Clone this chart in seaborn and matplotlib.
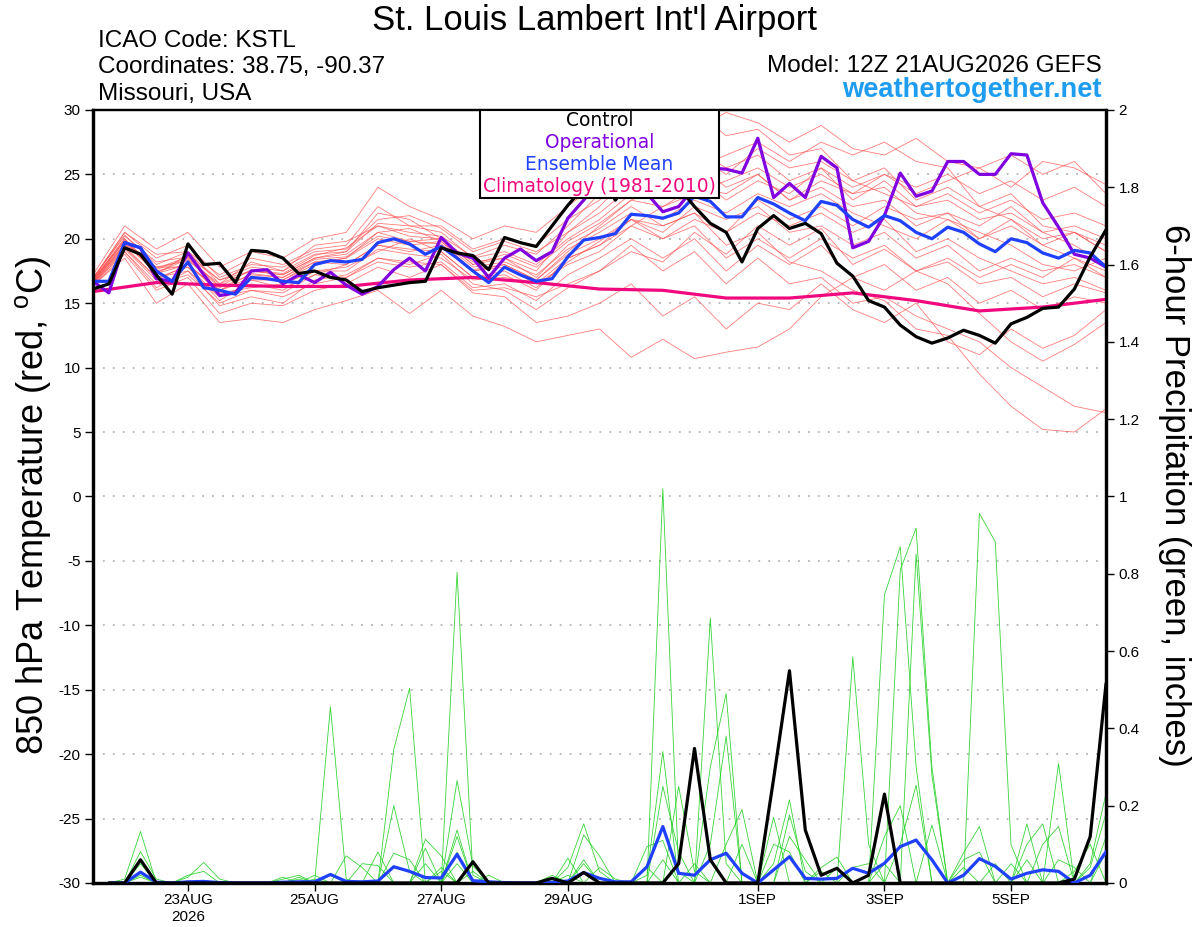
import numpy as np
import pandas as pd
import matplotlib
matplotlib.use("Agg")
import matplotlib.pyplot as plt
from matplotlib.patches import Rectangle
import seaborn as sns

# Forecast start: 12Z 21 Aug 2026, GEFS 0-384 h
START = pd.Timestamp("2026-08-21 12:00")

# 850 hPa temperature (C), every 6 h (65 values)
control_temp = [
    16.1, 16.5, 19.3, 18.8, 17.2, 15.7, 19.6, 18.0, 18.1, 16.6, 19.1, 19.0, 18.5,
    17.3, 17.5, 17.0, 16.8, 15.9, 16.2, 16.4, 16.6, 16.7, 19.3, 18.9, 18.7, 17.6,
    20.1, 19.7, 19.4, 21.0, 22.6, 24.0, 25.0, 23.0, 24.5, 25.0, 24.5, 24.0, 22.5,
    21.2, 20.5, 18.2, 20.8, 21.8, 20.8, 21.2, 20.4, 18.1, 17.1, 15.2, 14.7, 13.3,
    12.4, 11.9, 12.3, 12.9, 12.5, 11.9, 13.4, 13.9, 14.6, 14.7, 16.1, 18.6, 20.7,
]
operational_temp = [
    16.7, 15.8, 19.7, 19.3, 16.9, 16.7, 18.9, 17.2, 15.6, 15.8, 17.5, 17.6, 16.5,
    17.2, 16.6, 17.4, 16.4, 15.7, 16.3, 17.6, 18.5, 17.5, 20.1, 18.9, 18.5, 17.0,
    18.5, 19.2, 18.3, 19.0, 21.6, 23.0, 24.5, 25.0, 24.2, 23.5, 22.1, 22.5, 24.0,
    25.5, 25.4, 25.1, 27.8, 23.2, 24.3, 23.2, 26.4, 25.5, 19.3, 19.8, 21.8, 25.1,
    23.3, 23.7, 26.0, 26.0, 25.0, 25.0, 26.6, 26.5, 22.8, 20.9, 18.8, 18.5, 17.8,
]
mean_temp = [
    16.7, 16.7, 19.7, 19.3, 17.5, 16.7, 18.2, 16.2, 16.0, 15.7, 17.0, 16.9, 16.7,
    16.6, 18.0, 18.3, 18.2, 18.4, 19.7, 20.0, 19.6, 18.8, 19.4, 18.5, 17.5, 16.6,
    17.8, 17.2, 16.7, 16.9, 18.6, 19.9, 20.1, 20.4, 21.9, 21.8, 21.6, 22.0, 23.3,
    22.9, 21.7, 21.7, 23.2, 22.7, 22.0, 21.4, 22.9, 22.6, 21.5, 20.9, 21.8, 21.4,
    20.5, 20.0, 20.9, 20.5, 19.6, 19.0, 20.0, 19.7, 18.9, 18.5, 19.1, 18.9, 17.8,
]
# climatology (1981-2010), every 24 h
clim_temp = [15.9, 16.6, 16.4, 16.3, 16.3, 16.8, 17.0, 16.6, 16.1,
             16.0, 15.4, 15.4, 15.8, 15.2, 14.4, 14.7, 15.3]

# ensemble members, every 12 h (33 values each)
member_temp = [
    [16.9, 20.3, 18.0, 19.0, 16.5, 18.2, 17.5, 19.5, 19.8, 21.0, 20.5,
     20.2, 18.6, 19.5, 18.8, 21.0, 23.5, 25.8, 27.0, 28.5, 29.8, 29.0,
     27.5, 28.8, 27.0, 26.5, 27.8, 26.0, 25.5, 24.0, 26.0, 25.5, 24.2],
    [16.5, 19.0, 16.2, 17.5, 14.8, 15.5, 15.0, 16.8, 17.2, 18.5, 18.0,
     18.8, 16.5, 16.0, 14.5, 16.2, 17.5, 19.0, 18.2, 20.5, 18.8, 21.0,
     19.5, 20.8, 18.0, 19.2, 17.5, 16.5, 14.2, 12.0, 10.5, 11.8, 13.5],
    [16.8, 20.0, 17.2, 18.8, 16.8, 17.5, 17.2, 18.5, 18.8, 20.5, 19.8,
     20.0, 18.2, 18.5, 17.0, 19.5, 20.8, 22.5, 21.0, 22.0, 19.5, 20.5,
     18.2, 17.5, 16.0, 15.2, 13.0, 12.5, 9.5, 7.0, 5.2, 5.0, 6.8],
    [17.2, 21.0, 19.2, 20.5, 17.8, 19.0, 18.5, 20.0, 20.5, 24.0, 22.5,
     21.5, 20.0, 21.0, 20.5, 22.5, 24.5, 27.5, 28.8, 30.0, 28.0, 28.5,
     26.5, 27.0, 24.5, 25.5, 23.0, 24.0, 22.5, 23.5, 21.0, 20.5, 19.0],
    [16.4, 18.5, 15.0, 16.5, 13.5, 13.8, 13.5, 14.5, 15.2, 16.0, 14.2,
     16.0, 14.0, 13.2, 12.0, 12.5, 13.0, 10.8, 12.2, 10.7, 11.2, 11.6,
     13.0, 15.5, 17.0, 16.0, 17.5, 18.2, 16.5, 17.0, 15.5, 16.5, 15.8],
    [16.6, 19.5, 17.8, 17.8, 15.5, 16.5, 16.0, 17.5, 17.8, 19.0, 20.0,
     19.0, 17.0, 17.2, 16.0, 18.5, 19.5, 21.0, 22.5, 23.5, 24.5, 25.5,
     24.0, 25.0, 23.5, 24.0, 22.0, 21.5, 20.0, 21.0, 19.5, 18.5, 17.0],
    [16.9, 20.5, 18.5, 19.5, 17.0, 18.0, 17.8, 19.0, 19.2, 21.5, 21.8,
     20.8, 19.0, 19.8, 19.0, 20.5, 22.0, 24.0, 23.5, 25.0, 23.0, 24.5,
     23.5, 25.5, 24.0, 25.0, 23.5, 24.5, 25.5, 26.5, 25.0, 26.0, 23.5],
    [16.3, 18.8, 16.0, 17.0, 14.2, 15.0, 14.8, 16.0, 16.5, 17.8, 17.0,
     18.0, 15.8, 15.5, 13.5, 14.0, 15.0, 16.5, 14.0, 15.5, 13.0, 15.0,
     14.5, 16.5, 14.5, 13.5, 15.0, 12.0, 11.0, 13.0, 11.5, 12.5, 14.5],
    [16.7, 19.8, 17.6, 18.5, 16.2, 17.2, 17.0, 18.2, 18.5, 20.0, 19.5,
     19.8, 17.8, 18.2, 17.2, 19.2, 20.5, 22.0, 21.5, 23.0, 22.0, 23.5,
     22.5, 23.5, 22.0, 21.0, 20.0, 21.5, 20.5, 19.5, 18.0, 17.5, 18.5],
    [16.5, 19.2, 16.8, 18.0, 15.8, 16.2, 16.5, 17.5, 17.5, 19.2, 18.8,
     18.5, 16.8, 17.0, 16.5, 18.0, 19.0, 21.0, 20.0, 21.5, 20.5, 22.0,
     21.0, 22.0, 20.5, 21.5, 19.0, 20.0, 18.5, 17.5, 16.5, 17.0, 16.0],
    [17.0, 20.2, 18.2, 18.6, 16.8, 17.8, 17.5, 18.8, 19.0, 21.2, 21.0,
     20.5, 18.5, 19.0, 18.0, 20.0, 21.5, 23.5, 25.0, 26.5, 25.0, 27.0,
     25.5, 26.0, 24.5, 23.5, 22.5, 23.0, 21.5, 22.0, 20.5, 21.0, 20.0],
    [16.6, 19.4, 17.0, 17.8, 15.2, 16.8, 16.2, 17.2, 18.0, 19.5, 19.2,
     19.0, 17.0, 17.5, 16.2, 18.2, 19.8, 21.5, 20.5, 22.5, 21.5, 22.5,
     20.5, 21.0, 19.5, 20.5, 18.5, 19.5, 17.5, 18.5, 17.5, 18.0, 17.0],
    [16.8, 20.0, 17.5, 18.0, 16.0, 17.0, 16.8, 18.0, 18.5, 20.5, 20.8,
     19.8, 17.5, 18.0, 16.8, 19.0, 21.0, 23.0, 24.0, 25.5, 26.5, 27.5,
     26.0, 27.5, 26.5, 27.5, 26.0, 25.5, 22.5, 21.5, 19.5, 20.5, 19.5],
    [16.4, 19.0, 16.5, 17.2, 15.0, 16.0, 15.8, 17.2, 17.0, 18.2, 17.8,
     18.2, 16.2, 16.5, 15.2, 17.2, 18.5, 20.0, 18.5, 20.0, 17.5, 19.5,
     18.0, 19.5, 17.0, 18.0, 16.0, 17.0, 15.0, 16.0, 14.5, 15.5, 15.0],
    [16.7, 19.6, 17.8, 18.3, 16.5, 17.5, 17.2, 18.5, 19.0, 22.0, 21.5,
     20.0, 18.0, 18.5, 17.5, 20.5, 22.5, 25.0, 26.0, 27.0, 25.5, 26.5,
     24.5, 25.5, 23.0, 24.5, 22.5, 23.5, 22.0, 23.0, 21.5, 22.0, 21.0],
    [16.8, 19.8, 17.3, 18.0, 16.0, 16.8, 16.8, 18.2, 18.0, 19.5, 19.0,
     19.5, 17.5, 17.8, 16.5, 18.5, 19.5, 21.5, 21.0, 22.0, 20.5, 23.0,
     21.5, 22.5, 21.0, 22.5, 21.5, 22.0, 20.0, 21.5, 20.0, 20.5, 19.0],
    [16.5, 19.3, 17.0, 17.5, 15.5, 16.0, 15.5, 16.5, 17.0, 18.5, 18.2,
     18.0, 16.0, 16.2, 15.5, 16.5, 17.5, 19.5, 17.5, 19.0, 16.5, 18.5,
     16.5, 17.0, 15.0, 15.5, 14.0, 13.0, 12.0, 10.0, 8.5, 7.0, 6.5],
    [16.9, 20.5, 18.8, 19.0, 17.2, 18.5, 18.0, 19.2, 19.5, 22.5, 21.0,
     21.0, 19.2, 20.0, 19.5, 21.5, 23.0, 25.0, 24.5, 26.0, 24.0, 25.0,
     23.0, 24.0, 22.5, 23.0, 21.0, 22.0, 21.0, 22.5, 20.5, 19.5, 18.0],
    [16.6, 19.6, 17.4, 18.4, 16.0, 17.3, 17.0, 18.4, 18.6, 20.2, 19.8,
     19.6, 17.6, 18.0, 16.8, 18.8, 20.0, 21.5, 20.0, 21.0, 18.5, 20.0,
     18.5, 20.0, 18.5, 19.5, 17.5, 18.5, 17.0, 18.0, 17.0, 18.5, 17.5],
    [16.7, 19.9, 17.7, 18.6, 16.3, 17.6, 17.3, 18.7, 19.3, 21.0, 20.2,
     20.0, 18.0, 18.8, 17.8, 19.8, 21.2, 23.0, 22.5, 24.0, 23.5, 25.0,
     23.0, 24.5, 23.5, 25.0, 24.0, 25.0, 23.5, 24.5, 23.0, 24.0, 22.5],
]

# 6-hour precipitation (inches), steps 1..64 (6 h to 384 h)
control_precip = [
    0, 0, 0.06, 0, 0, 0, 0, 0, 0, 0,
    0, 0, 0, 0, 0, 0, 0, 0, 0, 0,
    0, 0, 0, 0.055, 0, 0, 0, 0, 0.012, 0,
    0.027, 0, 0, 0, 0, 0, 0.05, 0.348, 0.06, 0,
    0, 0, 0.27, 0.549, 0.137, 0.02, 0.038, 0, 0.02, 0.23,
    0, 0, 0, 0, 0, 0, 0, 0, 0, 0,
    0, 0.01, 0.12, 0.516,
]
mean_precip = [
    0, 0, 0.028, 0.002, 0, 0.003, 0.004, 0.001, 0, 0,
    0, 0.002, 0.003, 0.003, 0.022, 0.004, 0.003, 0.005, 0.042, 0.03,
    0.014, 0.013, 0.074, 0.006, 0.003, 0.001, 0, 0, 0.002, 0.005,
    0.027, 0.012, 0.003, 0.003, 0.042, 0.146, 0.025, 0.02, 0.06, 0.077,
    0.025, 0, 0.034, 0.068, 0.012, 0.01, 0.012, 0.038, 0.025, 0.051,
    0.094, 0.111, 0.06, 0, 0.02, 0.063, 0.043, 0.01, 0.025, 0.034,
    0.03, 0, 0.02, 0.081,
]
# members: (6-h step, amount) for every non-zero step
member_precip_spikes = [
    [(2, 0.01), (3, 0.133), (21, 0.09), (35, 0.094), (36, 0.11), (50, 0.745), (51, 0.87), (52, 0.3)],
    [(3, 0.081), (4, 0.01), (22, 0.04), (35, 0.04), (50, 0.12), (51, 0.2), (64, 0.12)],
    [(3, 0.05), (22, 0.03), (36, 1.02), (37, 0.03), (50, 0.05), (64, 0.08)],
    [(3, 0.03), (23, 0.804), (24, 0.02), (51, 0.81), (52, 0.918), (53, 0.3)],
    [(3, 0.02), (23, 0.265), (24, 0.045), (36, 0.06), (51, 0.1), (52, 0.253)],
    [(3, 0.015), (23, 0.137), (25, 0.02), (37, 0.25), (38, 0.03), (52, 0.851), (53, 0.278)],
    [(6, 0.015), (7, 0.053), (8, 0.01), (23, 0.12), (38, 0.05), (53, 0.15)],
    [(6, 0.02), (7, 0.03), (23, 0.08), (39, 0.685), (40, 0.05), (55, 0.078), (56, 0.146)],
    [(12, 0.01), (13, 0.02), (23, 0.05), (39, 0.3), (40, 0.49), (55, 0.06), (56, 0.08)],
    [(12, 0.015), (14, 0.02), (24, 0.03), (39, 0.1), (40, 0.38), (55, 0.04)],
    [(13, 0.01), (15, 0.456), (16, 0.01), (29, 0.02), (40, 0.1), (41, 0.19), (56, 0.956), (57, 0.883), (58, 0.098)],
    [(13, 0.015), (15, 0.02), (30, 0.064), (41, 0.1), (43, 0.17), (57, 0.05), (59, 0.153)],
    [(14, 0.01), (30, 0.04), (31, 0.153), (32, 0.03), (43, 0.1), (44, 0.08), (58, 0.05)],
    [(16, 0.07), (17, 0.04), (30, 0.02), (43, 0.05), (44, 0.215), (59, 0.1), (60, 0.153)],
    [(17, 0.05), (18, 0.045), (31, 0.124), (32, 0.07), (44, 0.176), (45, 0.03), (59, 0.06), (61, 0.309)],
    [(18, 0.08), (21, 0.05), (31, 0.06), (44, 0.12), (45, 0.06), (60, 0.1), (61, 0.146)],
    [(19, 0.2), (20, 0.03), (31, 0.05), (46, 0.04), (47, 0.067), (61, 0.06), (62, 0.04)],
    [(19, 0.077), (20, 0.06), (32, 0.04), (33, 0.01), (46, 0.03), (48, 0.585), (49, 0.1), (62, 0.03), (63, 0.1)],
    [(19, 0.345), (20, 0.504), (35, 0.02), (36, 0.34), (47, 0.04), (63, 0.05), (64, 0.232)],
    [(21, 0.113), (22, 0.07), (36, 0.25), (37, 0.08), (48, 0.04), (49, 0.05), (63, 0.04), (64, 0.18)],
]

# axes text
temp_ticks = [30, 25, 20, 15, 10, 5, 0, -5, -10, -15, -20, -25, -30]
precip_ticks = [0, 0.2, 0.4, 0.6, 0.8, 1.0, 1.2, 1.4, 1.6, 1.8, 2.0]
precip_tick_labels = ["0", "0.2", "0.4", "0.6", "0.8", "1", "1.2", "1.4", "1.6", "1.8", "2"]
date_ticks = ["2026-08-23", "2026-08-25", "2026-08-27", "2026-08-29",
              "2026-09-01", "2026-09-03", "2026-09-05"]
date_tick_labels = ["23AUG\n2026", "25AUG", "27AUG", "29AUG", "1SEP", "3SEP", "5SEP"]
legend_labels = ["Control", "Operational", "Ensemble Mean", "Climatology (1981-2010)"]
legend_colors = ["black", "#8000e0", "#2040ff", "#f0087f"]

# time axes
t6 = pd.date_range(START, periods=len(control_temp), freq="6h")
t12 = pd.date_range(START, periods=len(member_temp[0]), freq="12h")
t24 = pd.date_range(START, periods=len(clim_temp), freq="24h")
tp = t6[1:]

temp_long = pd.DataFrame(
    [(f"m{n:02d}", t, v) for n, row in enumerate(member_temp, 1) for t, v in zip(t12, row)],
    columns=["member", "time", "temp"])
rows = []
for n, spikes in enumerate(member_precip_spikes, 1):
    amounts = dict(spikes)
    for step, t in enumerate(tp, 1):
        rows.append((f"p{n:02d}", t, amounts.get(step, 0.0)))
precip_long = pd.DataFrame(rows, columns=["member", "time", "precip"])

sns.set_style("white")
plt.rcParams["font.family"] = ["Liberation Sans", "DejaVu Sans"]
plt.rcParams["axes.unicode_minus"] = False
plt.rcParams["mathtext.fontset"] = "custom"
plt.rcParams["mathtext.rm"] = "Liberation Sans"
plt.rcParams["text.color"] = "black"
plt.rcParams["xtick.color"] = "black"
plt.rcParams["ytick.color"] = "black"

fig = plt.figure(figsize=(12, 9.27), dpi=100)
ax = fig.add_axes([0.0775, 0.0475, 0.8442, 0.8339])
ax2 = ax.twinx()

# dotted grid at temperature ticks
for y in temp_ticks[1:-1]:
    ax.axhline(y, color="#b4b4b4", lw=1.3, ls=(0, (1, 4.5)), zorder=0)

# temperature
sns.lineplot(data=temp_long, x="time", y="temp", units="member", estimator=None,
             color="#ff5050", alpha=0.75, lw=0.6, ax=ax, legend=False, zorder=2)
sns.lineplot(x=t24, y=clim_temp, color="#f0087f", lw=2.3, ax=ax, zorder=3)
sns.lineplot(x=t6, y=operational_temp, color="#8000e0", lw=2.3, ax=ax, zorder=4)
sns.lineplot(x=t6, y=mean_temp, color="#2040ff", lw=2.3, ax=ax, zorder=5)
sns.lineplot(x=t6, y=control_temp, color="black", lw=2.3, ax=ax, zorder=6)

# precipitation
sns.lineplot(data=precip_long, x="time", y="precip", units="member", estimator=None,
             color="#22d022", alpha=0.9, lw=0.6, ax=ax2, legend=False, zorder=2)
sns.lineplot(x=tp, y=mean_precip, color="#2040ff", lw=2.3, ax=ax2, zorder=3)
sns.lineplot(x=tp, y=control_precip, color="black", lw=2.3, ax=ax2, zorder=4)

ax.set_xlim(t6[0], t6[-1])
ax.set_ylim(-30, 30)
ax2.set_ylim(0, 2)
ax.set_xlabel("")
ax.set_ylabel("")
ax2.set_ylabel("")

ax.set_yticks(temp_ticks)
ax.set_yticklabels([str(v) for v in temp_ticks])
ax2.set_yticks(precip_ticks)
ax2.set_yticklabels(precip_tick_labels)
ax.set_xticks(pd.to_datetime(date_ticks))
ax.set_xticklabels(date_tick_labels)

ax.tick_params(axis="y", left=True, right=False, labelsize=11, length=6, width=1.0, pad=3)
ax.tick_params(axis="x", bottom=True, labelsize=11, length=6, width=1.0, pad=1.5)
ax2.tick_params(axis="y", right=True, labelsize=11, length=6, width=1.0, pad=3)

for a in (ax, ax2):
    for side, sp in a.spines.items():
        sp.set_color("black")
        sp.set_linewidth(1.6 if side == "top" else 2.3)

# legend box
ax2.add_patch(Rectangle((0.382, 0.886), 0.236, 0.114, transform=ax2.transAxes,
                        facecolor="white", edgecolor="black", lw=1.5, zorder=10))
for label, color, y in zip(legend_labels, legend_colors, [0.986, 0.958, 0.930, 0.901]):
    ax2.text(0.5, y, label, transform=ax2.transAxes, ha="center", va="center",
             color=color, fontsize=13.4, family="DejaVu Sans", zorder=11)

# labels and header
fig.text(33 / 1200, 1 - 505 / 927, r"850 hPa Temperature (red, $^{\mathrm{o}}$C)",
         rotation=90, ha="center", va="center", fontsize=26)
fig.text(1175 / 1200, 1 - 495 / 927, "6-hour Precipitation (green, inches)",
         rotation=270, ha="center", va="center", fontsize=25)
fig.text(595 / 1200, 1 - 30 / 927, "St. Louis Lambert Int'l Airport",
         ha="center", va="baseline", fontsize=25)
fig.text(98 / 1200, 1 - 46.7 / 927, "ICAO Code: KSTL", va="baseline", fontsize=17.5)
fig.text(98 / 1200, 1 - 73.3 / 927, "Coordinates: 38.75, -90.37", va="baseline", fontsize=17.5)
fig.text(98 / 1200, 1 - 100 / 927, "Missouri, USA", va="baseline", fontsize=17.5)
fig.text(1102 / 1200, 1 - 72 / 927, "Model: 12Z 21AUG2026 GEFS", ha="right",
         va="baseline", fontsize=17.5)
fig.text(1102 / 1200, 1 - 97 / 927, "weathertogether.net", ha="right", va="baseline",
         fontsize=19.6, fontweight="bold", color="#1e9cf0")

fig.savefig("out.png", dpi=100)
